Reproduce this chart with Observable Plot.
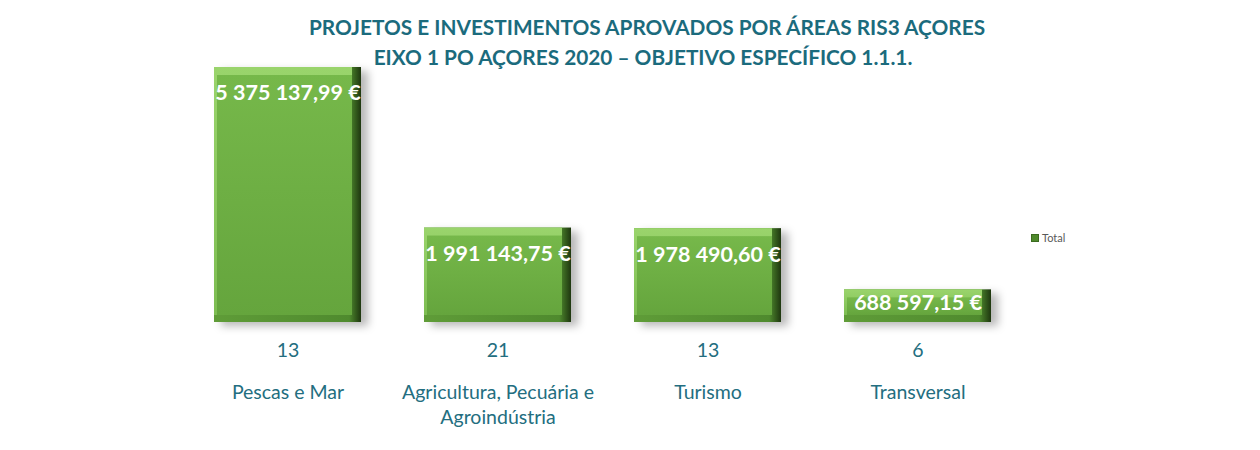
<!DOCTYPE html>
<html><head><meta charset="utf-8">
<script src="https://cdn.jsdelivr.net/npm/d3@7"></script>
<script src="https://cdn.jsdelivr.net/npm/@observablehq/plot@0.6"></script>
<style>
body{margin:0;background:#fff;font-family:Lato,"Open Sans",sans-serif;}
#wrap{position:relative;width:1260px;height:450px;overflow:hidden;}
#title{position:absolute;top:12px;left:17px;width:1260px;text-align:center;color:#1B6B7D;font-weight:bold;font-size:20.8px;line-height:30px;z-index:2;}
#title .l2{margin-left:-8px;}
#legend{position:absolute;left:1031px;top:231px;font-size:11px;color:#595959;display:flex;align-items:center;gap:3px;z-index:2;}
#legend .sw{width:6px;height:6px;background:#4f8a2c;border:0.5px solid #3c6b20;}
</style></head>
<body>
<div id="wrap">
  <div id="title"><div>PROJETOS E INVESTIMENTOS APROVADOS POR ÁREAS RIS3 AÇORES</div><div class="l2">EIXO 1 PO AÇORES 2020 – OBJETIVO ESPECÍFICO 1.1.1.</div></div>
  <div id="legend"><span class="sw"></span><span>Total</span></div>
  <div id="chart"></div>
</div>
<script>
const categories = ["Pescas e Mar", "Agricultura, Pecuária e Agroindústria", "Turismo", "Transversal"];
const totals = [5375137.99, 1991143.75, 1978490.60, 688597.15];
const counts = [13, 21, 13, 6];

const data = categories.map((c, i) => ({category: c, total: totals[i], count: counts[i]}));
const locale = d3.formatLocale({decimal: ",", thousands: " ", grouping: [3], currency: ["", ""]});
const fmt = v => locale.format(",.2f")(v) + " €";
const labelColor = "#236E80";

const defs = () => {
  const d = d3.create("svg:defs");
  const g = d.append("linearGradient").attr("id", "face").attr("x1", 0).attr("y1", 0).attr("x2", 0).attr("y2", 1);
  g.append("stop").attr("offset", "0%").attr("stop-color", "#76b84a");
  g.append("stop").attr("offset", "100%").attr("stop-color", "#65a53d");
  const r = d.append("linearGradient").attr("id", "edge").attr("x1", 0).attr("y1", 0).attr("x2", 1).attr("y2", 0);
  r.append("stop").attr("offset", "0%").attr("stop-color", "#5f9c38");
  r.append("stop").attr("offset", "92%").attr("stop-color", "#4f8a2e");
  r.append("stop").attr("offset", "100%").attr("stop-color", "#1e360f");
  const t = d.append("linearGradient").attr("id", "top").attr("x1", 0).attr("y1", 0).attr("x2", 0).attr("y2", 1);
  t.append("stop").attr("offset", "0%").attr("stop-color", "#9ad46c");
  t.append("stop").attr("offset", "100%").attr("stop-color", "#7dbd52");
  return d.node();
};

const chart = Plot.plot({
  width: 1260,
  height: 450,
  marginTop: 67,
  marginBottom: 128,
  marginLeft: 149,
  marginRight: 204,
  style: {fontFamily: "Lato, 'Open Sans', sans-serif", background: "transparent"},
  x: {domain: categories, padding: 0.3, axis: null},
  y: {domain: [0, d3.max(totals)], axis: null},
  marks: [
    defs,
    Plot.barY(data, {x: "category", y: "total", fill: "#000", fillOpacity: 0.28, dx: 7, dy: 4}),
    Plot.barY(data, {x: "category", y: "total", fill: "url(#edge)"}),
    Plot.barY(data, {x: "category", y: "total", fill: "url(#top)", insetRight: 9, insetBottom: 7}),
    Plot.barY(data, {x: "category", y: "total", fill: "url(#face)", insetTop: 8, insetLeft: 3, insetRight: 9, insetBottom: 7}),
    Plot.text(data.filter(d => d.total >= 1e6), {x: "category", y: "total", text: d => fmt(d.total), dy: 26, fill: "white", fontWeight: "bold", fontSize: 21.5}),
    Plot.text(data.filter(d => d.total < 1e6), {x: "category", y: d => d.total / 2, text: d => fmt(d.total), dy: -3, fill: "white", fontWeight: "bold", fontSize: 21.5}),
    Plot.text(data, {x: "category", frameAnchor: "bottom", text: d => String(d.count), dy: 34, fill: labelColor, fontSize: 19.5}),
    Plot.text(data, {x: "category", frameAnchor: "bottom", text: "category", lineAnchor: "top", dy: 58, lineWidth: 12.5, lineHeight: 1.3, fill: labelColor, fontSize: 19.5})
  ]
});
document.getElementById("chart").appendChild(chart);
const groups = chart.querySelectorAll("g[aria-label='bar']");
if (groups[0]) groups[0].style.filter = "blur(4px)";
</script>
</body></html>
